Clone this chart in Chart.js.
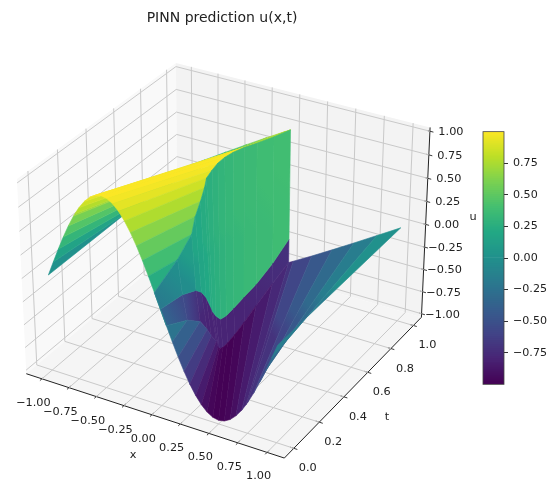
<!DOCTYPE html>
<html>
<head>
<meta charset="utf-8">
<script src="https://cdn.jsdelivr.net/npm/chart.js@4"></script>
<style>
    body { margin: 0; background: white; }
    #surfaceChart { position: absolute; left: 0; top: 0; }
    #colorbarChart { position: absolute; left: 482px; top: 120px; }
</style>
</head>
<body>
<canvas id="surfaceChart" width="560" height="482"></canvas>
<canvas id="colorbarChart" width="78" height="276"></canvas>
<script>
// Axis ticks
const xTicks = [-1, -0.75, -0.5, -0.25, 0, 0.25, 0.5, 0.75, 1];
const tTicks = [0, 0.2, 0.4, 0.6, 0.8, 1];
const uTicks = [-1, -0.75, -0.5, -0.25, 0, 0.25, 0.5, 0.75, 1];
const colorbarTicks = [-0.75, -0.5, -0.25, 0, 0.25, 0.5, 0.75];

// The surface is read as straight lines of constant u, each running from
// footX at t=0 to (endX, endT), where it hits the t=1 edge or the steep face near x=0
const footX = [-1, -.95, -.9, -.85, -.8, -.75, -.7365, -.7, -.65, -.6, -.55, -.5, -.45, -.4, -.35, -.3, -.25, -.2, -.15, -.1, -.05,
    0, .05, .1, .15, .2, .25, .3, .35, .4, .45, .5, .55, .6, .65, .7, .7365, .75, .8, .85, .9, .95, 1];
const levelU = [0, .156, .309, .454, .588, .707, .7365, .809, .891, .951, .988, 1, .988, .951, .891, .809, .707, .588, .454, .309, .156,
    0, -.156, -.309, -.454, -.588, -.707, -.809, -.891, -.951, -.988, -1, -.988, -.951, -.891, -.809, -.7365, -.707, -.588, -.454, -.309, -.156, 0];
const endX = [-1, -.794, -.591, -.396, -.212, -.043, 0, 0, 0, -.003, -.007, -.012, -.02, -.03, -.05, -.05, -.045, -.05, -.035, -.04, -.05,
    0, .05, .04, .035, .05, .045, .05, .05, .03, .02, .012, .007, .003, 0, 0, 0, .043, .212, .396, .591, .794, 1];
const endT = [1, 1, 1, 1, 1, 1, 1, .865, .7295, .631, .55, .49, .445, .41, .385, .37, .335, .3, .26, .16, 0,
    0, 0, .16, .26, .3, .335, .37, .385, .41, .445, .49, .55, .631, .7295, .865, 1, 1, 1, 1, 1, 1, 1];
const leftLineCount = 21; // lines left of x=0 at t=0

// The steep face near x=0: top edge, colour change, bottom edge and colours per t
const wallT = [0, .16, .26, .3, .335, .37, .385, .41, .445, .49, .55, .631, .7295, .865, 1];
const wallTopX = [-.05, -.04, -.035, -.05, -.045, -.05, -.05, -.03, -.02, -.012, -.007, -.003, 0, 0, 0];
const wallTopU = [.156, .309, .454, .588, .707, .809, .891, .951, .988, 1, .988, .951, .891, .809, .7365];
const wallSplitU = [0, -.05, -.13, -.2, -.3, -.45, -.52, -.6, -.68, -.7, -.69, -.67, -.65, -.58, -.47];
const wallBottomX = [.05, .04, .035, .05, .045, .05, .05, .03, .02, .012, .007, .003, 0, 0, 0];
const wallBottomU = [-.156, -.309, -.454, -.588, -.707, -.809, -.891, -.951, -.988, -1, -.988, -.951, -.891, -.809, -.7365];
const wallColorU = [-.18, -.03, .1, .17, .2, .23, .24, .26, .28, .3, .32, .34, .35, .37, .38];
const wallLowerColorU = [-.35, -.55, -.72, -.78, -.8, -.8, -.8, -.8, -.8, -.8, -.8, -.8, -.78, -.75, -.72];

const viridisStops = ['#440154', '#482475', '#414487', '#355f8d', '#2a788e', '#21918c',
    '#22a884', '#44bf70', '#7ad151', '#bddf26', '#fde725'];

const tickFont = '11.3px "DejaVu Sans"';
const textColor = '#222';

// Turn a u value into a viridis colour
function uToColor(u) {
    const pos = Math.min(Math.max((u + 1) / 2, 0), 1) * (viridisStops.length - 1);
    const i = Math.min(Math.floor(pos), viridisStops.length - 2);
    const f = pos - i;
    const a = parseInt(viridisStops[i].slice(1), 16);
    const b = parseInt(viridisStops[i + 1].slice(1), 16);
    const mix = shift => Math.round(((a >> shift) & 255) * (1 - f) + ((b >> shift) & 255) * f);
    return `rgb(${mix(16)}, ${mix(8)}, ${mix(0)})`;
}

// Same view as a matplotlib 3D axes: elev 30, azim -60, dist 10
const xLim = [-1.146, 1.146];
const tLim = [-0.073, 1.073];
const uLim = [-1.04, 1.04];
const boxX = 1.1905, boxT = 1.1905, boxU = 0.8929;

function project(x, t, u) {
    const a = ((x - xLim[0]) / (xLim[1] - xLim[0]) - 0.5) * boxX;
    const b = ((t - tLim[0]) / (tLim[1] - tLim[0]) - 0.5) * boxT;
    const c = ((u - uLim[0]) / (uLim[1] - uLim[0]) - 0.5) * boxU;
    const depth = 0.433 * a - 0.75 * b + 0.5 * c;
    const s = 10 / (10 - depth);
    return { x: (0.866 * a + 0.5 * b) * s, y: (-0.25 * a + 0.433 * b + 0.866 * c) * s };
}

function lineDataset(points, color, width) {
    return {
        type: 'scatter',
        data: points.map(p => project(p[0], p[1], p[2])),
        showLine: true,
        borderColor: color,
        borderWidth: width,
        pointRadius: 0,
        clip: false
    };
}

const [x0, x1] = xLim;
const [t0, t1] = tLim;
const [u0, u1] = uLim;
const gridColor = '#c9c9c9';
const axisColor = '#222';

const lineDatasets = [];
// Grid lines on the floor and the two back walls
xTicks.forEach(x => lineDatasets.push(lineDataset([[x, t0, u0], [x, t1, u0], [x, t1, u1]], gridColor, 1)));
tTicks.forEach(t => lineDatasets.push(lineDataset([[x1, t, u0], [x0, t, u0], [x0, t, u1]], gridColor, 1)));
uTicks.forEach(u => lineDatasets.push(lineDataset([[x0, t0, u], [x0, t1, u], [x1, t1, u]], gridColor, 1)));
// Axis lines
lineDatasets.push(lineDataset([[x0, t0, u0], [x1, t0, u0]], axisColor, 1));
lineDatasets.push(lineDataset([[x1, t0, u0], [x1, t1, u0]], axisColor, 1));
lineDatasets.push(lineDataset([[x1, t1, u0], [x1, t1, u1]], axisColor, 1));
// Tick marks
xTicks.forEach(x => lineDatasets.push(lineDataset([[x, t0 + 0.014, u0], [x, t0 - 0.014, u0]], axisColor, 0.9)));
tTicks.forEach(t => lineDatasets.push(lineDataset([[x1 - 0.03, t, u0], [x1 + 0.03, t, u0]], axisColor, 0.9)));
uTicks.forEach(u => lineDatasets.push(lineDataset([[x1 - 0.02, t1, u], [x1 + 0.03, t1, u]], axisColor, 0.9)));

// One filled cell; the colour runs from the edge points[0]-points[3] to the edge points[1]-points[2]
function cellDataset(points, uStart, uEnd) {
    return {
        type: 'scatter',
        data: points.map(p => project(p[0], p[1], p[2])),
        showLine: false,
        pointRadius: 0,
        isCell: true,
        uStart: uStart,
        uEnd: uEnd
    };
}

function stripCell(i) {
    const points = [
        [footX[i], 0, levelU[i]],
        [footX[i + 1], 0, levelU[i + 1]],
        [endX[i + 1], endT[i + 1], levelU[i + 1]],
        [endX[i], endT[i], levelU[i]]
    ];
    // nearly parallel strips get a smooth fade, the tapering ones a flat band
    if (endT[i] === 1 && endT[i + 1] === 1) return cellDataset(points, levelU[i], levelU[i + 1]);
    const mean = (levelU[i] + levelU[i + 1]) / 2;
    return cellDataset(points, mean, mean);
}

// Painted far to near: x<0 side, then the steep face, then x>0 side
const cells = [];
for (let i = 0; i < leftLineCount; i++) cells.push(stripCell(i));
for (let k = 0; k < wallT.length - 1; k++) {
    cells.push(cellDataset([
        [0, wallT[k], wallSplitU[k]],
        [0, wallT[k + 1], wallSplitU[k + 1]],
        [wallBottomX[k + 1], wallT[k + 1], wallBottomU[k + 1]],
        [wallBottomX[k], wallT[k], wallBottomU[k]]
    ], wallLowerColorU[k], wallLowerColorU[k + 1]));
    cells.push(cellDataset([
        [wallTopX[k], wallT[k], wallTopU[k]],
        [wallTopX[k + 1], wallT[k + 1], wallTopU[k + 1]],
        [0, wallT[k + 1], wallSplitU[k + 1]],
        [0, wallT[k], wallSplitU[k]]
    ], wallColorU[k], wallColorU[k + 1]));
}
for (let i = leftLineCount; i < footX.length - 1; i++) cells.push(stripCell(i));

// Back walls and floor, drawn as closed shapes
const panes = [
    { color: '#f9f9f9', points: [[x0, t0, u0], [x0, t1, u0], [x0, t1, u1], [x0, t0, u1]] },
    { color: '#f3f3f3', points: [[x0, t1, u0], [x1, t1, u0], [x1, t1, u1], [x0, t1, u1]] },
    { color: '#f5f5f5', points: [[x0, t0, u0], [x1, t0, u0], [x1, t1, u0], [x0, t1, u0]] }
].map(p => ({
    type: 'scatter',
    data: p.points.map(q => project(q[0], q[1], q[2])),
    showLine: false,
    pointRadius: 0,
    paneColor: p.color
}));

function tracePolygon(ctx, pts) {
    ctx.beginPath();
    pts.forEach((pt, k) => {
        if (k === 0) ctx.moveTo(pt.x, pt.y);
        else ctx.lineTo(pt.x, pt.y);
    });
    ctx.closePath();
}

const surfacePlugin = {
    id: 'surfacePlugin',
    beforeDatasetsDraw(chart) {
        const ctx = chart.ctx;
        chart.data.datasets.forEach((ds, idx) => {
            if (!ds.paneColor) return;
            tracePolygon(ctx, chart.getDatasetMeta(idx).data);
            ctx.fillStyle = ds.paneColor;
            ctx.fill();
        });
    },
    afterDatasetsDraw(chart) {
        const ctx = chart.ctx;
        chart.data.datasets.forEach((ds, idx) => {
            if (!ds.isCell) return;
            const pts = chart.getDatasetMeta(idx).data;
            const grad = ctx.createLinearGradient((pts[0].x + pts[3].x) / 2, (pts[0].y + pts[3].y) / 2,
                (pts[1].x + pts[2].x) / 2, (pts[1].y + pts[2].y) / 2);
            for (let k = 0; k <= 4; k++) {
                grad.addColorStop(k / 4, uToColor(ds.uStart + (ds.uEnd - ds.uStart) * k / 4));
            }
            tracePolygon(ctx, pts);
            ctx.fillStyle = grad;
            ctx.strokeStyle = grad;
            ctx.lineWidth = 0.6;
            ctx.fill();
            ctx.stroke();
        });
    },
    afterDraw(chart) {
        const ctx = chart.ctx;
        const sx = chart.scales.x;
        const sy = chart.scales.y;
        const pixel = (x, t, u) => {
            const p = project(x, t, u);
            return [sx.getPixelForValue(p.x), sy.getPixelForValue(p.y)];
        };
        ctx.save();
        ctx.font = tickFont;
        ctx.fillStyle = textColor;
        ctx.textAlign = 'center';
        ctx.textBaseline = 'middle';
        const fmt = (v, digits) => v.toFixed(digits).replace('-', '\u2212');
        xTicks.forEach(x => {
            const [px, py] = pixel(x, t0, u0);
            ctx.fillText(fmt(x, 2), px - 8.5, py + 24);
        });
        tTicks.forEach(t => {
            const [px, py] = pixel(x1, t, u0);
            ctx.fillText(fmt(t, 1), px + 14, py + 20);
        });
        uTicks.forEach(u => {
            const [px, py] = pixel(x1, t1, u);
            ctx.fillText(fmt(u, 2), px + 21, py + 1);
        });
        ctx.fillText('x', 133, 455);
        ctx.fillText('t', 387, 417);
        ctx.fillText('u', 473, 217);
        ctx.restore();
    }
};

new Chart(document.getElementById('surfaceChart').getContext('2d'), {
    type: 'scatter',
    data: { datasets: [...lineDatasets, ...panes, ...cells] },
    plugins: [surfacePlugin],
    options: {
        responsive: false,
        animation: false,
        events: [],
        layout: { padding: { left: 0, right: 116, top: 0, bottom: 0 } },
        plugins: {
            legend: { display: false },
            tooltip: { enabled: false },
            title: {
                display: true,
                text: 'PINN prediction u(x,t)',
                color: textColor,
                font: { family: 'DejaVu Sans', size: 14, weight: 'normal' },
                padding: { top: 10, bottom: 3.2 }
            }
        },
        scales: {
            x: { type: 'linear', display: false, min: -0.9162, max: 0.8719 },
            y: { type: 'linear', display: false, min: -0.9296, max: 0.8893 }
        }
    }
});

// Colorbar as overlapping slices next to the surface
const colorbarSliceCount = 128;
const colorbarSlices = [];
for (let k = 0; k < colorbarSliceCount; k++) {
    const lo = -1 + 2 * k / colorbarSliceCount;
    const hi = -1 + 2 * (k + 1.2) / colorbarSliceCount;
    colorbarSlices.push({
        data: [[lo, Math.min(hi, 1)]],
        backgroundColor: uToColor((lo + hi) / 2),
        borderWidth: 0,
        barPercentage: 1,
        categoryPercentage: 1
    });
}

const colorbarOutline = {
    id: 'colorbarOutline',
    afterDraw(chart) {
        const a = chart.chartArea;
        const ctx = chart.ctx;
        ctx.save();
        ctx.strokeStyle = '#444';
        ctx.lineWidth = 0.8;
        ctx.strokeRect(a.left, a.top, a.right - a.left, a.bottom - a.top);
        ctx.restore();
    }
};

new Chart(document.getElementById('colorbarChart').getContext('2d'), {
    type: 'bar',
    data: { labels: ['u'], datasets: colorbarSlices },
    plugins: [colorbarOutline],
    options: {
        responsive: false,
        animation: false,
        events: [],
        layout: { padding: { left: 1, right: 0, top: 0, bottom: 0 } },
        plugins: { legend: { display: false }, tooltip: { enabled: false }, title: { display: false } },
        scales: {
            x: { display: false, stacked: true },
            y: {
                position: 'right',
                min: -1,
                max: 1,
                afterBuildTicks: scale => { scale.ticks = colorbarTicks.map(v => ({ value: v })); },
                afterFit: scale => { scale.width = 56; },
                grid: { drawOnChartArea: false, drawTicks: true, tickLength: 4, color: '#333' },
                border: { display: false },
                ticks: {
                    autoSkip: false,
                    padding: 5,
                    color: textColor,
                    font: { family: 'DejaVu Sans', size: 11.1 },
                    callback: v => v.toFixed(2).replace('-', '\u2212')
                }
            }
        }
    }
});
</script>
</body>
</html>
